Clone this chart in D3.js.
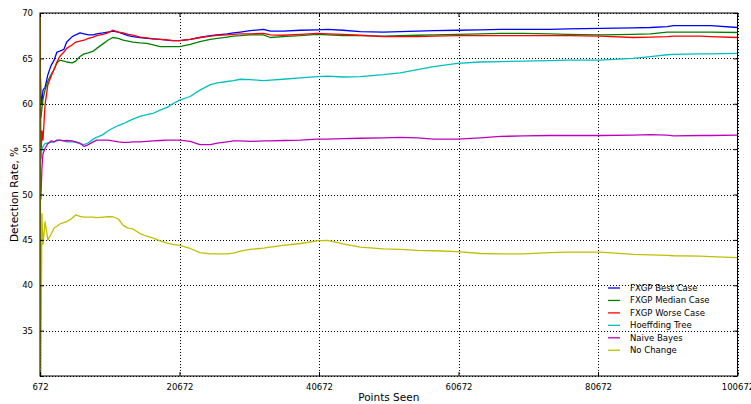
<!DOCTYPE html>
<html><head><meta charset="utf-8">
<script src="https://cdn.jsdelivr.net/npm/d3@7"></script>
<style>body{margin:0;background:#fff}svg{display:block}text{font-family:"DejaVu Sans",sans-serif;fill:#000}</style>
</head><body><svg id="c" width="751" height="404"></svg>
<script>
const pointsSeen=[672,800,950,1100,1400,1800,2250,2700,3100,3500,4100,4500,5300,5800,6400,7000,7600,8300,8800,9700,10400,11100,11900,12600,13300,14000,15000,16000,16900,17900,18900,19700,20700,22200,23600,25100,26100,27500,28400,29400,30800,32700,33700,35500,38000,40400,41900,44100,46600,49900,52300,54800,57100,60500,63800,66700,70000,73800,76300,81000,85700,88200,90600,91500,95400,96800,100672];
const fxgpBest=[64.6,61.0,60.0,61.5,61.8,63.2,64.2,64.8,65.7,65.8,66.0,66.8,67.4,67.6,67.8,67.7,67.6,67.6,67.7,67.8,67.9,68.0,67.9,67.7,67.5,67.4,67.3,67.2,67.15,67.1,67.0,66.95,66.95,67.1,67.3,67.5,67.6,67.7,67.8,67.9,68.05,68.2,68.0,68.0,68.1,68.15,68.2,68.1,67.95,67.9,67.95,68.0,68.05,68.1,68.15,68.2,68.2,68.2,68.25,68.3,68.35,68.4,68.5,68.6,68.6,68.6,68.4];
const fxgpMedian=[60.0,58.5,59.5,60.5,61.5,62.5,63.2,63.8,64.5,64.8,64.7,64.6,64.5,64.7,65.2,65.5,65.6,65.8,66.1,66.6,67.0,67.3,67.2,67.0,66.9,66.8,66.7,66.65,66.5,66.3,66.3,66.3,66.3,66.55,66.85,67.1,67.2,67.35,67.45,67.5,67.6,67.6,67.3,67.4,67.5,67.65,67.6,67.5,67.5,67.45,67.5,67.55,67.6,67.65,67.7,67.75,67.75,67.7,67.65,67.6,67.65,67.7,67.9,67.9,67.9,67.9,67.85];
const fxgpWorse=[70.0,54.0,57.0,56.0,59.9,62.1,63.0,63.8,64.6,65.2,65.7,66.1,66.5,66.8,66.9,67.0,67.2,67.35,67.5,67.65,67.8,68.1,67.9,67.8,67.65,67.55,67.35,67.25,67.15,67.1,67.05,66.95,66.95,67.1,67.3,67.45,67.55,67.6,67.65,67.7,67.7,67.75,67.6,67.55,67.65,67.75,67.7,67.65,67.55,67.4,67.4,67.4,67.45,67.5,67.5,67.5,67.5,67.5,67.5,67.45,67.3,67.35,67.4,67.45,67.45,67.4,67.3];
const hoeffding=[53.0,54.0,55.0,55.3,55.6,55.7,55.75,55.8,55.9,56.0,55.9,55.8,55.8,55.75,55.6,55.5,55.7,56.1,56.3,56.6,57.0,57.3,57.6,57.8,58.05,58.3,58.6,58.8,58.95,59.3,59.6,60.0,60.4,60.8,61.5,62.1,62.3,62.45,62.55,62.7,62.65,62.55,62.6,62.7,62.85,63.0,63.05,62.95,63.0,63.2,63.4,63.75,64.1,64.45,64.6,64.65,64.7,64.75,64.8,64.8,65.0,65.2,65.4,65.45,65.5,65.5,65.55];
const naiveBayes=[52.0,49.5,53.0,54.5,55.1,55.6,55.9,55.8,56.0,56.0,55.9,55.95,55.9,55.8,55.65,55.3,55.5,55.8,56.0,56.0,56.0,55.9,55.8,55.75,55.75,55.8,55.8,55.85,55.9,55.95,56.0,56.0,56.0,55.85,55.5,55.5,55.65,55.8,55.9,55.9,55.85,55.9,55.9,55.95,56.0,56.1,56.1,56.15,56.2,56.25,56.3,56.25,56.1,56.1,56.25,56.4,56.45,56.5,56.5,56.5,56.55,56.6,56.55,56.45,56.5,56.5,56.55];
const noChange=[70.0,30.0,47.9,44.5,47.0,45.0,45.6,46.3,46.5,46.75,46.9,47.0,47.4,47.75,47.6,47.5,47.5,47.5,47.45,47.5,47.55,47.55,47.3,46.6,46.3,46.2,45.7,45.4,45.2,44.9,44.65,44.5,44.4,44.05,43.6,43.45,43.45,43.45,43.55,43.75,43.95,44.1,44.2,44.4,44.6,44.9,44.95,44.55,44.2,44.0,43.95,43.85,43.8,43.7,43.5,43.45,43.45,43.6,43.65,43.65,43.4,43.35,43.3,43.25,43.2,43.15,43.05];
const seriesNames=["FXGP Best Case","FXGP Median Case","FXGP Worse Case","Hoeffding Tree","Naive Bayes","No Change"];
const seriesColors=["#0000ff","#008000","#ff0000","#00bfbf","#bf00bf","#bfbf00"];
const xTicks=[672,20672,40672,60672,80672,100672];
const yTicks=[30,35,40,45,50,55,60,65,70];
const allSeries=[fxgpBest,fxgpMedian,fxgpWorse,hoeffding,naiveBayes,noChange];

const L=40,R=737.5,T=13,B=376;
const svg=d3.select("#c");
const x=d3.scaleLinear().domain([672,100672]).range([L,R]);
const y=d3.scaleLinear().domain([30,70]).range([B,T]);
const px=v=>Math.round(v)+0.5;

const g=svg.append("g");
g.selectAll(".gx").data(xTicks).join("line").attr("x1",d=>px(x(d))).attr("x2",d=>px(x(d))).attr("y1",T).attr("y2",B)
 .attr("stroke","#000").attr("stroke-width",1).attr("stroke-dasharray","1,2");
g.selectAll(".gy").data(yTicks).join("line").attr("x1",L).attr("x2",R).attr("y1",d=>px(y(d))).attr("y2",d=>px(y(d)))
 .attr("stroke","#000").attr("stroke-width",1).attr("stroke-dasharray","1,2");

svg.append("clipPath").attr("id","clip").append("rect").attr("x",L).attr("y",T).attr("width",R-L).attr("height",B-T);
const line=d3.line().x((d,i)=>x(pointsSeen[i])).y(d=>y(d));
const lg=svg.append("g").attr("clip-path","url(#clip)");
allSeries.forEach((s,k)=>{
  lg.append("path").datum(s).attr("d",line).attr("fill","none").attr("stroke",seriesColors[k]).attr("stroke-width",1.3).attr("stroke-linejoin","round");
});

const fmt=d=>String(d);
const addAxis=(a,tr)=>svg.append("g").attr("transform",tr).call(a);
addAxis(d3.axisBottom(x).tickValues(xTicks).tickFormat(fmt).tickSizeInner(-4).tickSizeOuter(0).tickPadding(8),`translate(0,${B})`);
addAxis(d3.axisTop(x).tickValues(xTicks).tickFormat("").tickSizeInner(-4).tickSizeOuter(0),`translate(0,${T})`);
addAxis(d3.axisLeft(y).tickValues(yTicks).tickFormat(d=>d===30?"":fmt(d)).tickSizeInner(-4).tickSizeOuter(0).tickPadding(7),`translate(${L},0)`);
addAxis(d3.axisRight(y).tickValues(yTicks).tickFormat("").tickSizeInner(-4).tickSizeOuter(0),`translate(${R},0)`);
svg.selectAll(".domain").remove();
svg.selectAll(".tick line").attr("stroke","#000").attr("stroke-width",1);
svg.selectAll(".tick text").attr("font-size","8.5px").attr("font-family","DejaVu Sans").attr("fill","#000");
svg.append("rect").attr("x",L).attr("y",T).attr("width",R-L).attr("height",B-T).attr("fill","none").attr("stroke","#000").attr("stroke-width",1);

svg.append("text").attr("x",(L+R)/2).attr("y",401).attr("text-anchor","middle").attr("font-size","10.5px").text("Points Seen");
svg.append("text").attr("transform",`translate(18,${(T+B)/2}) rotate(-90)`).attr("text-anchor","middle").attr("font-size","10.5px").text("Detection Rate, %");

const leg=svg.append("g");
seriesNames.forEach((n,k)=>{
  const yy=288+k*12.45;
  leg.append("line").attr("x1",608).attr("x2",620).attr("y1",yy).attr("y2",yy).attr("stroke",seriesColors[k]).attr("stroke-width",1.3);
  leg.append("text").attr("x",630).attr("y",yy+3).attr("font-size","8.5px").text(n);
});
</script></body></html>
